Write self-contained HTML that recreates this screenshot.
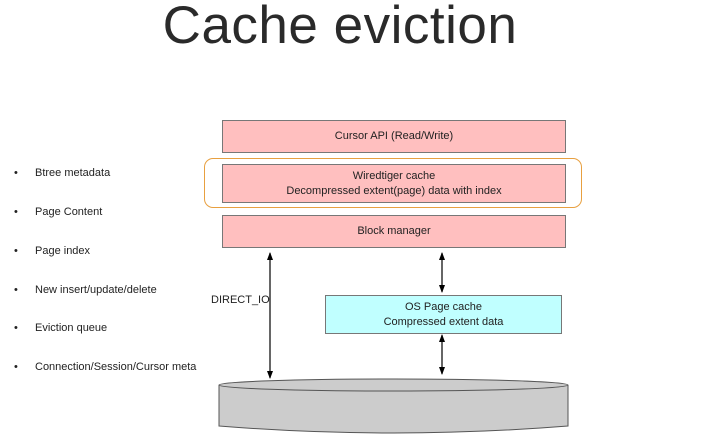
<!DOCTYPE html>
<html><head><style>
body{margin:0;width:705px;height:436px;background:#fff;position:relative;overflow:hidden;font-family:"Liberation Sans",sans-serif;color:#222}
.t{position:absolute;left:0;width:680px;top:-5px;text-align:center;font-size:53px;font-weight:normal;color:#2a2a2a;letter-spacing:0.5px}
.b{position:absolute;background:#ffbfbf;border:1px solid #777;box-sizing:border-box;font-size:11px;text-align:center;display:flex;flex-direction:column;justify-content:center;line-height:15px}
.li{position:absolute;left:14px;font-size:11px}
.li span{position:absolute;left:21px;white-space:nowrap}
</style></head><body>
<div class="t">Cache eviction</div>
<div class="li" style="top:167px">•<span>Btree metadata</span></div>
<div class="li" style="top:206px">•<span>Page Content</span></div>
<div class="li" style="top:245px">•<span>Page index</span></div>
<div class="li" style="top:284px">•<span>New insert/update/delete</span></div>
<div class="li" style="top:322px">•<span>Eviction queue</span></div>
<div class="li" style="top:361px">•<span>Connection/Session/Cursor meta</span></div>
<div class="b" style="left:222px;top:120px;width:344px;height:33px">Cursor API (Read/Write)</div>
<div style="position:absolute;left:204px;top:158px;width:378px;height:50px;border:1.5px solid #e8a040;border-radius:9px;box-sizing:border-box"></div>
<div class="b" style="left:222px;top:164px;width:344px;height:39px">Wiredtiger cache<br>Decompressed extent(page) data with index</div>
<div class="b" style="left:222px;top:215px;width:344px;height:33px">Block manager</div>
<div class="b" style="left:325px;top:295px;width:237px;height:39px;background:#c0ffff">OS Page cache<br>Compressed extent data</div>
<div style="position:absolute;left:211px;top:294px;font-size:11px">DIRECT_IO</div>
<svg width="705" height="436" style="position:absolute;left:0;top:0">
<defs><marker id="a" markerWidth="8" markerHeight="8" refX="7" refY="4" orient="auto-start-reverse" markerUnits="userSpaceOnUse"><path d="M0,1 L8,4 L0,7 Z" fill="#000"/></marker></defs>
<line x1="270" y1="253" x2="270" y2="378" stroke="#000" stroke-width="1.2" marker-start="url(#a)" marker-end="url(#a)"/>
<line x1="442" y1="253" x2="442" y2="292" stroke="#000" stroke-width="1.2" marker-start="url(#a)" marker-end="url(#a)"/>
<line x1="442" y1="335" x2="442" y2="374" stroke="#000" stroke-width="1.2" marker-start="url(#a)" marker-end="url(#a)"/>
<path d="M219,385 L219,426 Q393,440 568,426 L568,385" fill="#cccccc" stroke="#555"/>
<ellipse cx="393.5" cy="385" rx="174.5" ry="6" fill="#cccccc" stroke="#555"/>
</svg>
</body></html>
